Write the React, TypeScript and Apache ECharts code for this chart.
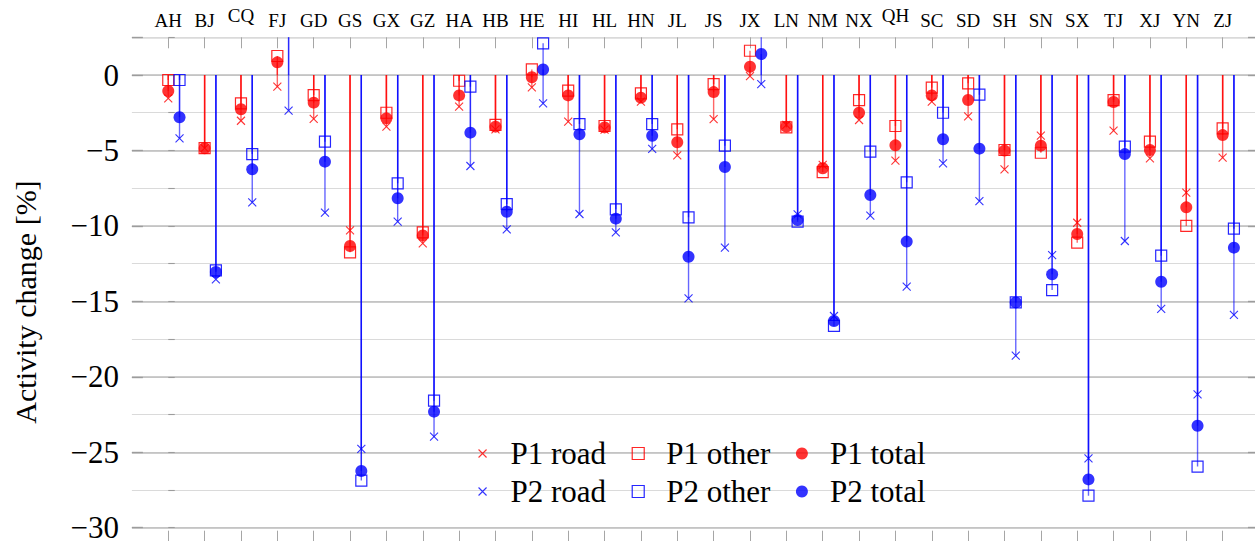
import React, { useEffect, useRef } from 'react';
import * as echarts from 'echarts';

const categories = ['AH', 'BJ', 'CQ', 'FJ', 'GD', 'GS', 'GX', 'GZ', 'HA', 'HB', 'HE', 'HI', 'HL', 'HN', 'JL', 'JS', 'JX', 'LN', 'NM', 'NX', 'QH', 'SC', 'SD', 'SH', 'SN', 'SX', 'TJ', 'XJ', 'YN', 'ZJ'];

const p1Road = [-1.55, -4.85, -3.03, -0.77, -2.9, -10.3, -3.42, -11.16, -2.1, -3.6, -0.82, -3.09, -3.62, -1.77, -5.32, -2.92, -0.07, -3.3, -5.96, -2.98, -5.68, -1.77, -2.74, -6.25, -4.02, -9.79, -3.69, -5.52, -7.8, -5.48];
const p1Other = [-0.33, -4.85, -1.88, 1.26, -1.33, -11.75, -2.5, -10.43, -0.38, -3.31, 0.37, -1.04, -3.38, -1.21, -3.6, -0.6, 1.61, -3.47, -6.43, -1.66, -3.38, -0.84, -0.55, -4.97, -5.15, -11.11, -1.66, -4.42, -10.0, -3.53];
const p1Total = [-1.06, -4.85, -2.27, 0.84, -1.83, -11.33, -2.87, -10.63, -1.35, -3.42, -0.15, -1.35, -3.47, -1.5, -4.46, -1.13, 0.55, -3.42, -6.18, -2.5, -4.66, -1.35, -1.66, -5.01, -4.68, -10.54, -1.79, -4.97, -8.77, -3.98];
const p2Road = [-4.2, -13.54, -8.44, -2.36, -9.12, -24.78, -9.72, -23.97, -6.03, -10.23, -1.88, -9.21, -10.43, -4.9, -14.8, -11.44, -0.6, -9.23, -15.97, -9.32, -14.03, -5.85, -8.35, -18.6, -11.93, -25.4, -11.0, -15.5, -21.16, -15.9];
const p2Other = [-0.33, -12.95, -5.24, 6.0, -4.42, -26.88, -7.18, -21.58, -0.77, -8.55, 2.1, -3.25, -8.9, -3.25, -9.43, -4.68, 4.0, -9.72, -16.63, -5.08, -7.11, -2.5, -1.3, -15.07, -14.25, -27.88, -4.75, -11.97, -25.95, -10.18];
const p2Total = [-2.8, -13.05, -6.25, 3.2, -5.74, -26.24, -8.17, -22.31, -3.82, -9.06, 0.37, -3.93, -9.52, -4.02, -12.04, -6.1, 1.39, -9.61, -16.3, -7.95, -11.04, -4.26, -4.88, -15.07, -13.21, -26.8, -5.24, -13.7, -23.24, -11.44];

const yTicksMajor = 5;
const yTicksMinor = 2.5;
const yMin = -30;
const yMax = 2.5;

const RED = '#ff0000';
const BLUE = '#0000ff';
const BLUE_SHIFT = 0.31;
const SERIF = '"Liberation Serif", "Times New Roman", serif';
const CROSS = 'path://M0,0L10,10M10,0L0,10';
const CROSS_ICON = 'path://M0,0M12,12M2,2L10,10M10,2L2,10';
const TICK_GRAY = '#9c9c9c';

const tickLabels = ['', ...categories, ''];

const points = (values: number[], shift: number) => values.map((v, i) => [i + shift, v]);
const stemRows = (a: number[], b: number[], c: number[], shift: number) =>
  a.map((v, i) => [i + shift, v, b[i], c[i]]);

function stemSeries(color: string, data: number[][]) {
  return {
    type: 'custom',
    xAxisIndex: 0,
    yAxisIndex: 0,
    clip: true,
    silent: true,
    z: 1,
    encode: { x: 0, y: [1, 2, 3] },
    data,
    renderItem: (_params: any, api: any) => {
      const x = api.value(0);
      const base = api.coord([x, 0]);
      const children = [1, 2, 3].map((k) => {
        const end = api.coord([x, api.value(k)]);
        return {
          type: 'line',
          shape: { x1: base[0], y1: base[1], x2: end[0], y2: end[1] },
          style: { stroke: color, lineWidth: 1.4, opacity: 0.6 },
        };
      });
      return { type: 'group', children };
    },
  };
}

function markerSeries(name: string, values: number[], shift: number, symbol: string, size: number, itemStyle: any, z: number) {
  return {
    type: 'scatter',
    name,
    xAxisIndex: 0,
    yAxisIndex: 0,
    data: points(values, shift),
    symbol,
    symbolSize: size,
    itemStyle,
    z,
    clip: true,
    silent: true,
  };
}

const hollow = (c: string) => ({ color: 'rgba(255,255,255,0)', borderColor: c, borderWidth: 1.2, opacity: 0.85 });

function legendFor(prefix: string, color: string, top: number) {
  return {
    orient: 'horizontal',
    left: 476,
    top,
    padding: 0,
    itemWidth: 12,
    itemHeight: 12,
    itemGap: 25.5,
    selectedMode: false,
    textStyle: { fontSize: 31, fontFamily: SERIF, color: '#000', padding: [0, 0, 0, 17] },
    data: [
      { name: `${prefix} road`, icon: CROSS_ICON, itemStyle: { color, borderColor: color, borderWidth: 1.1 } },
      { name: `${prefix} other`, icon: 'rect', itemStyle: { color: 'rgba(255,255,255,0)', borderColor: color, borderWidth: 1.2 } },
      { name: `${prefix} total`, icon: 'circle', itemStyle: { color, borderWidth: 0 } },
    ],
  };
}

function catAxis(position: 'top' | 'bottom', offset: number, showLabels: boolean) {
  return {
    type: 'category',
    data: tickLabels,
    position,
    offset,
    boundaryGap: false,
    axisLine: { show: false, onZero: false },
    axisTick: {
      show: true,
      inside: true,
      length: 11,
      interval: (_i: number, v: string) => v !== '',
      lineStyle: { color: '#a6a6a6', width: 1 },
    },
    axisLabel: {
      show: showLabels,
      interval: 0,
      margin: 7,
      fontSize: 19,
      fontFamily: SERIF,
      color: '#000',
      formatter: (v: string) => (v.includes('Q') ? `{q|${v}}` : v),
      rich: { q: { fontSize: 19, fontFamily: SERIF, color: '#000', padding: [0, 0, 5, 0] } },
    },
    splitLine: { show: false },
  };
}

const yLabel = (v: number) => (v > 0 ? '' : v === 0 ? '0' : '\u2212' + Math.abs(v));

export default function App() {
  const ref = useRef<HTMLDivElement>(null);
  useEffect(() => {
    if (!ref.current) return;
    const chart = echarts.init(ref.current, undefined, { renderer: 'svg' });
    const major = '#bdbdbd';
    const minor = '#dadada';
    chart.setOption({
      animation: false,
      backgroundColor: '#ffffff',
      grid: { left: 131.9, top: 37.3, width: 1128.4, height: 490.4, containLabel: false, show: false },
      xAxis: [
        { type: 'value', min: -1, max: 30, interval: 1, show: false, axisLine: { onZero: false } },
        catAxis('top', 0, true),
        catAxis('bottom', 14, false),
      ],
      yAxis: [
        {
          type: 'value', min: yMin, max: yMax, interval: yTicksMinor,
          axisLine: { show: false },
          axisTick: { show: true, inside: true, length: 6.5, lineStyle: { color: TICK_GRAY, width: 1.1 } },
          axisLabel: { show: false },
          splitLine: { show: true, lineStyle: { color: minor, width: 1 } },
        },
        {
          type: 'value', position: 'left', min: yMin, max: yMax, interval: yTicksMajor,
          axisLine: { show: false },
          axisTick: { show: true, inside: true, length: 11, lineStyle: { color: TICK_GRAY, width: 1.4 } },
          axisLabel: { show: true, margin: 13, fontSize: 31, lineHeight: 24, fontFamily: SERIF, color: '#000', formatter: yLabel },
          splitLine: { show: true, lineStyle: { color: [major, major, major, major, major, major, major, minor], width: 1.5 } },
        },
        {
          type: 'value', position: 'right', min: yMin, max: yMax, interval: yTicksMajor,
          axisLine: { show: false },
          axisTick: { show: true, inside: true, length: 11, lineStyle: { color: TICK_GRAY, width: 1.4 } },
          axisLabel: { show: false },
          splitLine: { show: false },
        },
      ],
      legend: [legendFor('P1', RED, 438), legendFor('P2', BLUE, 476)],
      graphic: [
        {
          type: 'text',
          x: 25,
          y: 302,
          rotation: Math.PI / 2,
          style: { text: 'Activity change [%]', fontSize: 30, fontFamily: SERIF, fill: '#000', align: 'center', verticalAlign: 'middle' },
        },
      ],
      series: [
        stemSeries(RED, stemRows(p1Road, p1Other, p1Total, 0)),
        stemSeries(BLUE, stemRows(p2Road, p2Other, p2Total, BLUE_SHIFT)),
        markerSeries('P1 road', p1Road, 0, CROSS, 8, { color: RED, borderColor: RED, borderWidth: 1.1 }, 3),
        markerSeries('P1 other', p1Other, 0, 'rect', 11, hollow(RED), 3),
        markerSeries('P1 total', p1Total, 0, 'circle', 12, { color: RED }, 4),
        markerSeries('P2 road', p2Road, BLUE_SHIFT, CROSS, 8, { color: BLUE, borderColor: BLUE, borderWidth: 1.1 }, 3),
        markerSeries('P2 other', p2Other, BLUE_SHIFT, 'rect', 11, hollow(BLUE), 3),
        markerSeries('P2 total', p2Total, BLUE_SHIFT, 'circle', 12, { color: BLUE }, 4),
      ],
    });
    return () => chart.dispose();
  }, []);
  return (
    <div style={{ position: 'fixed', left: 0, top: 0, width: 1255, height: 541, overflow: 'hidden', background: '#fff' }}>
      <div ref={ref} style={{ width: 1262, height: 546 }} />
    </div>
  );
}
